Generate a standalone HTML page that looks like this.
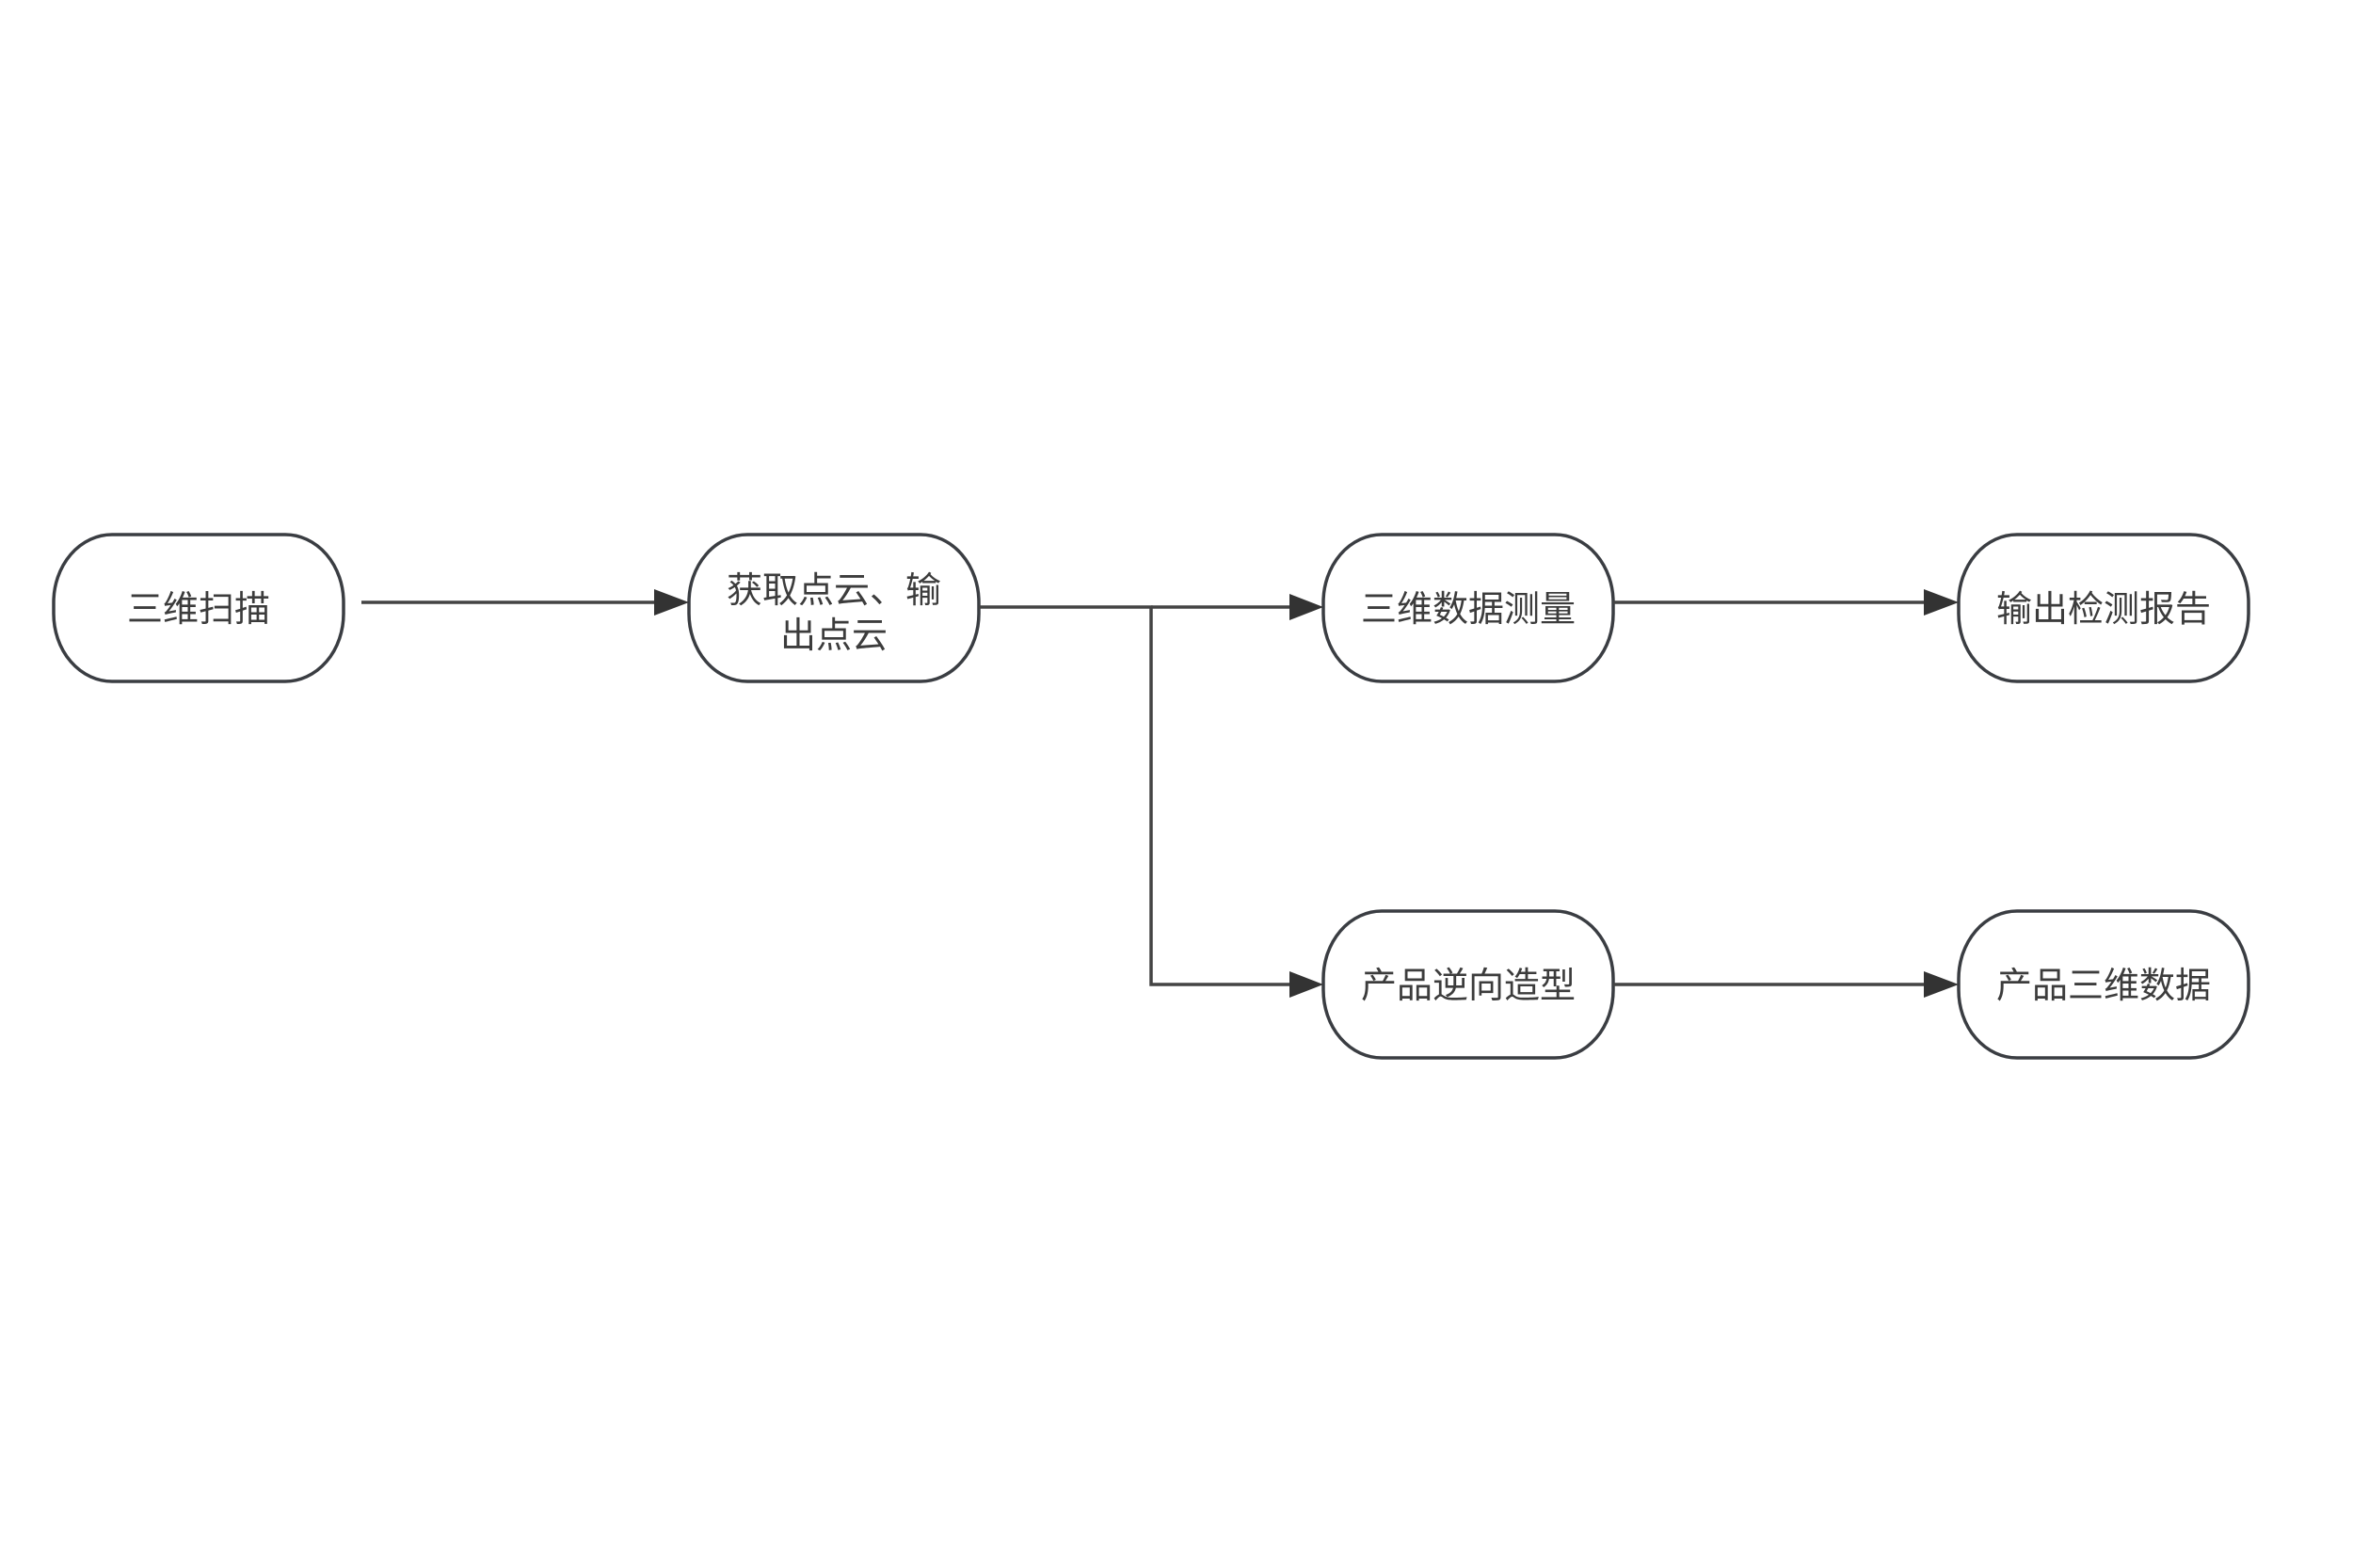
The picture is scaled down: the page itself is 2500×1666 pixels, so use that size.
<!DOCTYPE html>
<html><head><meta charset="utf-8"><style>
html,body{margin:0;padding:0;background:#fff;}
svg{display:block}
text{font-family:"Liberation Sans","Noto Sans CJK SC","WenQuanYi Zen Hei",sans-serif;font-size:38px;fill:#3c3c3c;text-anchor:middle}
</style></head><body>
<svg width="2500" height="1666" viewBox="0 0 2500 1666" xmlns="http://www.w3.org/2000/svg">
<g fill="#fff" stroke="#3a3d42" stroke-width="3.5">
<rect x="57" y="568" width="308" height="156" rx="62" ry="72"/>
<rect x="732" y="568" width="308" height="156" rx="62" ry="72"/>
<rect x="1406" y="568" width="308" height="156" rx="62" ry="72"/>
<rect x="2081" y="568" width="308" height="156" rx="62" ry="72"/>
<rect x="1406" y="968" width="308" height="156" rx="62" ry="72"/>
<rect x="2081" y="968" width="308" height="156" rx="62" ry="72"/>
</g>
<g stroke="#444" stroke-width="3.5" fill="none">
<line x1="384" y1="640" x2="695" y2="640"/>
<polyline points="1040,645 1223,645 1223,1046 1370,1046"/>
<line x1="1223" y1="645" x2="1370" y2="645"/>
<line x1="1714" y1="640" x2="2044" y2="640"/>
<line x1="1714" y1="1046" x2="2044" y2="1046"/>
</g>
<g fill="#333">
<path d="M695,626 L732,640 L695,654 z"/>
<path d="M1370,631 L1406,645 L1370,659 z"/>
<path d="M1370,1032 L1406,1046 L1370,1060 z"/>
<path d="M2044,626 L2081,640 L2044,654 z"/>
<path d="M2044,1032 L2081,1046 L2044,1060 z"/>
</g>
<text x="211" y="660">三维扫描</text>
<text x="886" y="640">获取点云、输</text>
<text x="886" y="688">出点云</text>
<text x="1560" y="660">三维数据测量</text>
<text x="2235" y="660">输出检测报告</text>
<text x="1560" y="1060">产品逆向造型</text>
<text x="2235" y="1060">产品三维数据</text>
</svg>
</body></html>
